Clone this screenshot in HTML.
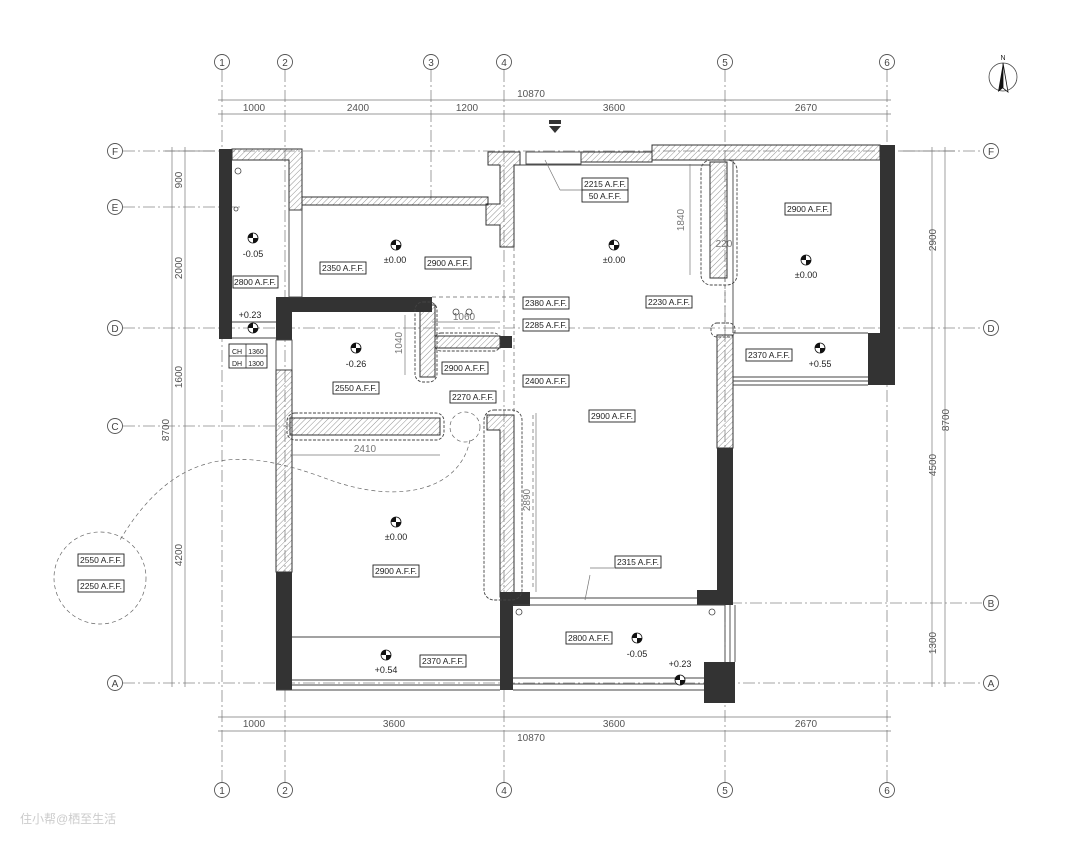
<!DOCTYPE html>
<html><head><meta charset="utf-8"><style>
body{margin:0;background:#fff}
svg{display:block}
text{font-family:"Liberation Sans","Noto Sans CJK SC",sans-serif}
</style></head><body>
<svg width="1080" height="845" viewBox="0 0 1080 845" xmlns="http://www.w3.org/2000/svg">
<defs>
<pattern id="h" width="4" height="4" patternUnits="userSpaceOnUse" patternTransform="rotate(45)"><line x1="0" y1="0" x2="0" y2="4" stroke="#777" stroke-width="0.8"/></pattern>
</defs>
<rect width="1080" height="845" fill="#fff"/>
<g stroke="#888" stroke-width="0.8" fill="none" stroke-dasharray="12 3 2 3">
<line x1="222" y1="70" x2="222" y2="782"/><line x1="285" y1="70" x2="285" y2="782"/><line x1="431" y1="70" x2="431" y2="200"/>
<line x1="504" y1="70" x2="504" y2="782"/><line x1="725" y1="70" x2="725" y2="782"/><line x1="887" y1="70" x2="887" y2="782"/>
<line x1="123" y1="151" x2="983" y2="151"/><line x1="123" y1="207" x2="240" y2="207"/><line x1="123" y1="328" x2="983" y2="328"/>
<line x1="123" y1="426" x2="290" y2="426"/><line x1="730" y1="603" x2="983" y2="603"/><line x1="123" y1="683" x2="983" y2="683"/>
</g>
<g fill="#fff" stroke="#555" stroke-width="0.9" font-size="10" text-anchor="middle">
<circle cx="222" cy="62" r="7.5"/><circle cx="285" cy="62" r="7.5"/><circle cx="431" cy="62" r="7.5"/><circle cx="504" cy="62" r="7.5"/><circle cx="725" cy="62" r="7.5"/><circle cx="887" cy="62" r="7.5"/>
<circle cx="222" cy="790" r="7.5"/><circle cx="285" cy="790" r="7.5"/><circle cx="504" cy="790" r="7.5"/><circle cx="725" cy="790" r="7.5"/><circle cx="887" cy="790" r="7.5"/>
<circle cx="115" cy="151" r="7.5"/><circle cx="115" cy="207" r="7.5"/><circle cx="115" cy="328" r="7.5"/><circle cx="115" cy="426" r="7.5"/><circle cx="115" cy="683" r="7.5"/>
<circle cx="991" cy="151" r="7.5"/><circle cx="991" cy="328" r="7.5"/><circle cx="991" cy="603" r="7.5"/><circle cx="991" cy="683" r="7.5"/>
</g>
<g fill="#444" font-size="10" text-anchor="middle" stroke="none">
<text x="222" y="66">1</text><text x="285" y="66">2</text><text x="431" y="66">3</text><text x="504" y="66">4</text><text x="725" y="66">5</text><text x="887" y="66">6</text>
<text x="222" y="794">1</text><text x="285" y="794">2</text><text x="504" y="794">4</text><text x="725" y="794">5</text><text x="887" y="794">6</text>
<text x="115" y="155">F</text><text x="115" y="211">E</text><text x="115" y="332">D</text><text x="115" y="430">C</text><text x="115" y="687">A</text>
<text x="991" y="155">F</text><text x="991" y="332">D</text><text x="991" y="607">B</text><text x="991" y="687">A</text>
</g>
<!-- dimension lines -->
<g stroke="#777" stroke-width="0.7" fill="none">
<line x1="218" y1="100" x2="891" y2="100"/><line x1="218" y1="114" x2="891" y2="114"/>
<line x1="218" y1="717" x2="891" y2="717"/><line x1="218" y1="731" x2="891" y2="731"/>
<line x1="172" y1="147" x2="172" y2="687"/><line x1="185" y1="147" x2="185" y2="687"/>
<line x1="932" y1="147" x2="932" y2="687"/><line x1="945" y1="147" x2="945" y2="687"/>
<line x1="165" y1="151" x2="215" y2="151"/><line x1="900" y1="151" x2="955" y2="151"/>
</g>
<g fill="#555" font-size="10" text-anchor="middle">
<text x="531" y="97">10870</text>
<text x="254" y="111">1000</text><text x="358" y="111">2400</text><text x="467" y="111">1200</text><text x="614" y="111">3600</text><text x="806" y="111">2670</text>
<text x="254" y="727">1000</text><text x="394" y="727">3600</text><text x="614" y="727">3600</text><text x="806" y="727">2670</text>
<text x="531" y="741">10870</text>
<g transform="translate(182,180) rotate(-90)"><text>900</text></g>
<g transform="translate(182,268) rotate(-90)"><text>2000</text></g>
<g transform="translate(182,377) rotate(-90)"><text>1600</text></g>
<g transform="translate(169,430) rotate(-90)"><text>8700</text></g>
<g transform="translate(182,555) rotate(-90)"><text>4200</text></g>
<g transform="translate(936,240) rotate(-90)"><text>2900</text></g>
<g transform="translate(949,420) rotate(-90)"><text>8700</text></g>
<g transform="translate(936,465) rotate(-90)"><text>4500</text></g>
<g transform="translate(936,643) rotate(-90)"><text>1300</text></g>
</g>
<!-- hatched walls -->
<g fill="url(#h)" stroke="#333" stroke-width="1">
<path d="M232 149 H302 V210 H289 V160 H232Z"/>
<rect x="302" y="197" width="186" height="8"/>
<path d="M488 152 H520 V165 H514 V247 H500 V225 H486 V204 H500 V165 H488Z"/>
<rect x="581" y="152" width="71" height="10"/>
<path d="M652 145 H880 V160 H652Z"/>
<rect x="710" y="162" width="17" height="116"/>
<rect x="717" y="335" width="16" height="113"/>
<rect x="276" y="370" width="16" height="202"/>
<rect x="420" y="305" width="15" height="72"/>
<rect x="435" y="336" width="65" height="12"/>
<rect x="290" y="418" width="150" height="17"/>
<path d="M487 415 H514 V597 H500 V430 H487Z"/>
</g>
<!-- dark walls -->
<g fill="#333">
<rect x="219" y="149" width="13" height="190"/>
<rect x="276" y="297" width="156" height="15"/><rect x="276" y="297" width="16" height="43"/>
<rect x="880" y="145" width="15" height="240"/><rect x="868" y="333" width="27" height="52"/>
<rect x="717" y="448" width="16" height="157"/><rect x="697" y="590" width="36" height="15"/>
<rect x="500" y="592" width="30" height="14"/><rect x="500" y="600" width="13" height="90"/>
<rect x="276" y="572" width="16" height="118"/>
<rect x="500" y="336" width="12" height="12"/>
<rect x="704" y="662" width="31" height="41"/>
</g>
<!-- thin lines -->
<g stroke="#444" stroke-width="0.9" fill="none">
<line x1="733" y1="160" x2="880" y2="160"/><line x1="733" y1="160" x2="733" y2="333"/>
<line x1="733" y1="333" x2="868" y2="333"/>
<line x1="733" y1="377" x2="868" y2="377"/><line x1="733" y1="381" x2="868" y2="381"/><line x1="733" y1="385" x2="868" y2="385"/>
<line x1="292" y1="637" x2="500" y2="637"/>
<line x1="292" y1="680" x2="500" y2="680"/><line x1="292" y1="685" x2="500" y2="685"/><line x1="276" y1="690" x2="500" y2="690"/>
<line x1="513" y1="605" x2="725" y2="605"/><line x1="513" y1="678" x2="704" y2="678"/><line x1="513" y1="684" x2="704" y2="684"/><line x1="513" y1="690" x2="704" y2="690"/>
<line x1="725" y1="605" x2="725" y2="662"/><line x1="730" y1="605" x2="730" y2="662"/><line x1="735" y1="605" x2="735" y2="662"/>
<line x1="530" y1="598" x2="697" y2="598"/>
<rect x="526" y="152" width="55" height="12"/>
<line x1="232" y1="338" x2="276" y2="338"/>
<line x1="232" y1="322" x2="276" y2="322"/>
<rect x="289" y="210" width="13" height="87"/>
<rect x="276" y="340" width="16" height="30"/>
<line x1="520" y1="165" x2="710" y2="165"/>
</g>
<g stroke="#666" stroke-width="0.7" fill="none" stroke-dasharray="4 3">
<line x1="432" y1="297" x2="514" y2="297"/><line x1="514" y1="247" x2="514" y2="415"/>
<line x1="533" y1="415" x2="533" y2="590"/><line x1="725" y1="278" x2="725" y2="335"/>
<circle cx="465" cy="427" r="15"/>
<path d="M470 440 C460 490 400 505 330 480 C250 450 180 440 120 540"/>
<circle cx="100" cy="578" r="46"/>
</g>
<!-- cloud outlines -->
<g stroke="#444" stroke-width="0.9" fill="none" stroke-dasharray="3 1.5">
<rect x="701" y="160" width="36" height="125" rx="10"/>
<rect x="415" y="302" width="22" height="80" rx="8"/>
<rect x="435" y="333" width="65" height="18" rx="6"/>
<rect x="287" y="413" width="157" height="27" rx="8"/>
<rect x="484" y="410" width="38" height="190" rx="10"/>
<rect x="711" y="323" width="24" height="14" rx="6"/>
</g>
<!-- dims inside -->
<g stroke="#777" stroke-width="0.7" fill="none">
<line x1="690" y1="164" x2="690" y2="275"/><line x1="536" y1="413" x2="536" y2="592"/>
<line x1="290" y1="455" x2="440" y2="455"/><line x1="432" y1="322" x2="500" y2="322"/>
<line x1="405" y1="315" x2="405" y2="375"/>
<line x1="545" y1="160" x2="560" y2="190" /><line x1="560" y1="190" x2="582" y2="190"/>
<line x1="585" y1="600" x2="590" y2="575"/><line x1="590" y1="568" x2="614" y2="568"/>
</g>
<g fill="#777" font-size="10" text-anchor="middle">
<g transform="translate(684,220) rotate(-90)"><text>1840</text></g>
<g transform="translate(530,500) rotate(-90)"><text>2890</text></g>
<g transform="translate(402,343) rotate(-90)"><text>1040</text></g>
<text x="365" y="452">2410</text><text x="464" y="320">1060</text><text x="724" y="247">220</text>
</g>
<path d="M549 126 h12 l-6 7z" fill="#333"/><rect x="549" y="120" width="12" height="4" fill="#333"/>
<!-- tags -->
<g font-size="8.5" fill="#222" stroke="none" text-anchor="middle">
<g fill="#fff" stroke="#222" stroke-width="0.9">
<rect x="320" y="262" width="46" height="12"/><rect x="425" y="257" width="46" height="12"/><rect x="233" y="276" width="45" height="12"/>
<rect x="582" y="178" width="46" height="12"/><rect x="582" y="190" width="46" height="12"/>
<rect x="785" y="203" width="46" height="12"/><rect x="523" y="297" width="46" height="12"/><rect x="523" y="319" width="46" height="12"/>
<rect x="646" y="296" width="46" height="12"/><rect x="523" y="375" width="46" height="12"/><rect x="442" y="362" width="46" height="12"/>
<rect x="450" y="391" width="46" height="12"/><rect x="333" y="382" width="46" height="12"/><rect x="589" y="410" width="46" height="12"/>
<rect x="746" y="349" width="46" height="12"/><rect x="373" y="565" width="46" height="12"/><rect x="420" y="655" width="46" height="12"/>
<rect x="566" y="632" width="46" height="12"/><rect x="615" y="556" width="46" height="12"/>
<rect x="78" y="554" width="46" height="12"/><rect x="78" y="580" width="46" height="12"/>
<rect x="229" y="344" width="38" height="24"/>
</g>
<text x="343" y="271">2350 A.F.F.</text><text x="448" y="266">2900 A.F.F.</text><text x="255" y="285">2800 A.F.F.</text>
<text x="605" y="187">2215 A.F.F.</text><text x="605" y="199">50 A.F.F.</text>
<text x="808" y="212">2900 A.F.F.</text><text x="546" y="306">2380 A.F.F.</text><text x="546" y="328">2285 A.F.F.</text>
<text x="669" y="305">2230 A.F.F.</text><text x="546" y="384">2400 A.F.F.</text><text x="465" y="371">2900 A.F.F.</text>
<text x="473" y="400">2270 A.F.F.</text><text x="356" y="391">2550 A.F.F.</text><text x="612" y="419">2900 A.F.F.</text>
<text x="769" y="358">2370 A.F.F.</text><text x="396" y="574">2900 A.F.F.</text><text x="443" y="664">2370 A.F.F.</text>
<text x="589" y="641">2800 A.F.F.</text><text x="638" y="565">2315 A.F.F.</text>
<text x="101" y="563">2550 A.F.F.</text><text x="101" y="589">2250 A.F.F.</text>
<text x="237" y="354" font-size="7">CH</text><text x="256" y="354" font-size="7">1360</text>
<text x="237" y="366" font-size="7">DH</text><text x="256" y="366" font-size="7">1300</text>
</g>
<line x1="229" y1="356" x2="267" y2="356" stroke="#222" stroke-width="0.7"/><line x1="246" y1="344" x2="246" y2="368" stroke="#222" stroke-width="0.7"/>
<!-- level markers -->
<g id="lv">
</g>
<g font-size="9" fill="#222" text-anchor="middle">
<g stroke="#111" stroke-width="0.8">
<circle cx="253" cy="238" r="5" fill="#fff"/><circle cx="396" cy="245" r="5" fill="#fff"/><circle cx="614" cy="245" r="5" fill="#fff"/>
<circle cx="806" cy="260" r="5" fill="#fff"/><circle cx="253" cy="328" r="5" fill="#fff"/><circle cx="356" cy="348" r="5" fill="#fff"/>
<circle cx="820" cy="348" r="5" fill="#fff"/><circle cx="396" cy="522" r="5" fill="#fff"/><circle cx="386" cy="655" r="5" fill="#fff"/>
<circle cx="637" cy="638" r="5" fill="#fff"/><circle cx="680" cy="680" r="5" fill="#fff"/>
</g>
<g fill="#111">
<path d="M253 238 v-5 a5 5 0 0 0 -5 5z M253 238 v5 a5 5 0 0 0 5 -5z"/>
<path d="M396 245 v-5 a5 5 0 0 0 -5 5z M396 245 v5 a5 5 0 0 0 5 -5z"/>
<path d="M614 245 v-5 a5 5 0 0 0 -5 5z M614 245 v5 a5 5 0 0 0 5 -5z"/>
<path d="M806 260 v-5 a5 5 0 0 0 -5 5z M806 260 v5 a5 5 0 0 0 5 -5z"/>
<path d="M253 328 v-5 a5 5 0 0 0 -5 5z M253 328 v5 a5 5 0 0 0 5 -5z"/>
<path d="M356 348 v-5 a5 5 0 0 0 -5 5z M356 348 v5 a5 5 0 0 0 5 -5z"/>
<path d="M820 348 v-5 a5 5 0 0 0 -5 5z M820 348 v5 a5 5 0 0 0 5 -5z"/>
<path d="M396 522 v-5 a5 5 0 0 0 -5 5z M396 522 v5 a5 5 0 0 0 5 -5z"/>
<path d="M386 655 v-5 a5 5 0 0 0 -5 5z M386 655 v5 a5 5 0 0 0 5 -5z"/>
<path d="M637 638 v-5 a5 5 0 0 0 -5 5z M637 638 v5 a5 5 0 0 0 5 -5z"/>
<path d="M680 680 v-5 a5 5 0 0 0 -5 5z M680 680 v5 a5 5 0 0 0 5 -5z"/>
</g>
<text x="253" y="257">-0.05</text><text x="395" y="263">±0.00</text><text x="614" y="263">±0.00</text>
<text x="806" y="278">±0.00</text><text x="250" y="318">+0.23</text><text x="356" y="367">-0.26</text>
<text x="820" y="367">+0.55</text><text x="396" y="540">±0.00</text><text x="386" y="673">+0.54</text>
<text x="637" y="657">-0.05</text><text x="680" y="667">+0.23</text>
</g>
<g fill="none" stroke="#444" stroke-width="0.8">
<circle cx="238" cy="171" r="3"/><circle cx="236" cy="209" r="2"/><circle cx="456" cy="312" r="3"/><circle cx="469" cy="312" r="3"/>
<circle cx="519" cy="612" r="3"/><circle cx="712" cy="612" r="3"/>
</g>
<!-- north arrow -->
<circle cx="1003" cy="77" r="14" fill="none" stroke="#444" stroke-width="0.8"/>
<path d="M1003 63 L998 92 L1003 88Z" fill="#111"/><path d="M1003 63 L1008 92 L1003 88Z" fill="#fff" stroke="#111" stroke-width="0.8"/>
<text x="1003" y="60" font-size="7" text-anchor="middle" fill="#222">N</text>
<text x="20" y="823" font-size="12" fill="#ccc">住小帮@栖至生活</text>
</svg>
</body></html>
